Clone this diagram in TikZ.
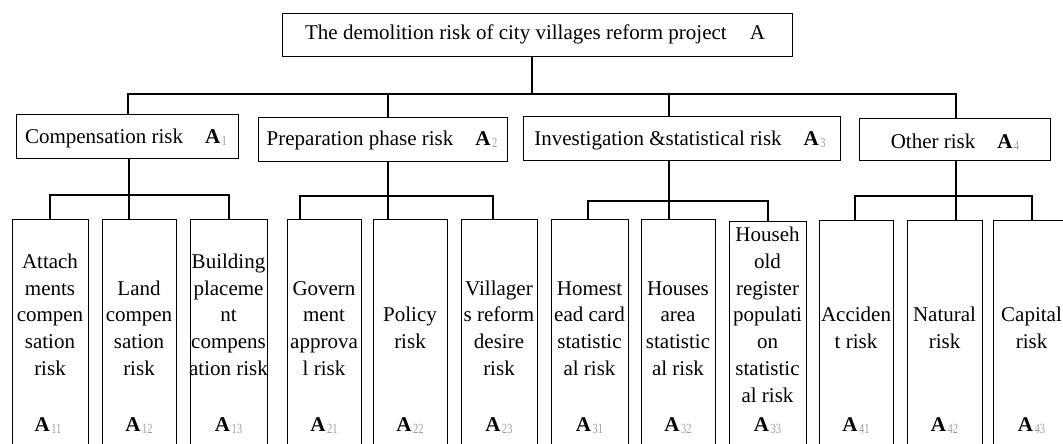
\documentclass[tikz,border=0pt]{standalone}
\usepackage{fontspec}
\setmainfont{Liberation Serif}
\usepackage{graphicx}
\definecolor{subgray}{gray}{0.62}
\newcommand{\Asub}[1]{\textbf{A}\kern1.5pt\raisebox{-2pt}{\scalebox{0.75}[1]{\color{subgray}\fontsize{14}{14}\selectfont #1}}}
\begin{document}
\begin{tikzpicture}[x=1pt,y=-1pt,line width=1.1pt,
  box/.style={draw,inner sep=0pt,anchor=north west},
  hbox/.style={box,minimum height=44pt},
  leaf/.style={box,minimum height=250pt},
  txt/.style={inner sep=0pt,anchor=base,font=\fontsize{21}{26.7}\selectfont},
  ltxt/.style={inner sep=0pt,anchor=north,align=center,font=\fontsize{21}{26.7}\selectfont},
  lab/.style={inner sep=0pt,anchor=base,font=\fontsize{21}{26.7}\selectfont}]
\clip (0,0) rectangle (1063,444);
\useasboundingbox (0,0) rectangle (1063,444);
% top box
\node[box,minimum width=510pt,minimum height=43pt] (top) at (282,13) {};
\node[txt] (ttop) at (535,40) {The demolition risk of city villages reform project\hspace{23pt}A};
% level 2
\node[hbox,minimum width=222pt] (a1) at (16,114) {};
\node[hbox,minimum width=249pt] (a2) at (258,117) {};
\node[hbox,minimum width=317pt] (a3) at (523,116) {};
\node[box,minimum width=191pt,minimum height=42pt] (a4) at (859,118) {};
\node[txt] (ta1) at (126,143) {Compensation risk\hspace{22pt}\Asub{1}};
\node[txt] (ta2) at (382,145) {Preparation phase risk\hspace{22pt}\Asub{2}};
\node[txt] (ta3) at (680,145) {Investigation \&statistical risk\hspace{22pt}\Asub{3}};
\node[txt] (ta4) at (955,148) {Other risk\hspace{22pt}\Asub{4}};
% level 3 boxes
\node[leaf,minimum width=76pt] (b1) at (12,219) {};
\node[leaf,minimum width=74pt] (b2) at (102,219) {};
\node[leaf,minimum width=77pt] (b3) at (190,219) {};
\node[leaf,minimum width=74pt] (b4) at (287,219) {};
\node[leaf,minimum width=74pt] (b5) at (373,219) {};
\node[leaf,minimum width=76pt] (b6) at (461,219) {};
\node[leaf,minimum width=77pt] (b7) at (551,219) {};
\node[leaf,minimum width=74pt] (b8) at (641,219) {};
\node[leaf,minimum width=77pt] (b9) at (729,221) {};
\node[leaf,minimum width=74pt] (b10) at (819,220) {};
\node[leaf,minimum width=75pt] (b11) at (907,220) {};
\node[leaf,minimum width=77pt] (b12) at (993,220) {};
% level 3 texts
\node[ltxt] (tb1) at (50,249.3) {\strut Attach\\ments\\compen\\sation\\risk};
\node[ltxt] (tb2) at (139,276.0) {\strut Land\\compen\\sation\\risk};
\node[ltxt] (tb3) at (228.5,249.3) {\strut Building\\placeme\\nt\\compens\\ation risk};
\node[ltxt] (tb4) at (324,276.0) {\strut Govern\\ment\\approva\\l risk};
\node[ltxt] (tb5) at (410,302.7) {\strut Policy\\risk};
\node[ltxt] (tb6) at (499,276.0) {\strut Villager\\s reform\\desire\\risk};
\node[ltxt] (tb7) at (589.5,276.0) {\strut Homest\\ead card\\statistic\\al risk};
\node[ltxt] (tb8) at (678,276.0) {\strut Houses\\area\\statistic\\al risk};
\node[ltxt] (tb9) at (767.5,222.6) {\strut Househ\\old\\register\\populati\\on\\statistic\\al risk};
\node[ltxt] (tb10) at (856,302.7) {\strut Acciden\\t risk};
\node[ltxt] (tb11) at (944.5,302.7) {\strut Natural\\risk};
\node[ltxt] (tb12) at (1031.5,302.7) {\strut Capital\\risk};
% labels
\node[lab] (l1) at (48,431) {\Asub{11}};
\node[lab] (l2) at (139,431) {\Asub{12}};
\node[lab] (l3) at (228.5,431) {\Asub{13}};
\node[lab] (l4) at (324,431) {\Asub{21}};
\node[lab] (l5) at (410,431) {\Asub{22}};
\node[lab] (l6) at (499,431) {\Asub{23}};
\node[lab] (l7) at (589.5,431) {\Asub{31}};
\node[lab] (l8) at (678,431) {\Asub{32}};
\node[lab] (l9) at (767.5,431) {\Asub{33}};
\node[lab] (l10) at (856,431) {\Asub{41}};
\node[lab] (l11) at (944.5,431) {\Asub{42}};
\node[lab] (l12) at (1031.5,431) {\Asub{43}};
% level 1 -> 2 connectors
\coordinate (j0) at (532,94);
\coordinate (j1) at (128,94);
\coordinate (j2) at (388,94);
\coordinate (j3) at (669,94);
\coordinate (j4) at (956,94);
\draw (j0 |- top.south) -- (j0);
\draw (j1 |- a1.north) -- (j1) -- (j4) -- (j4 |- a4.north);
\draw (j2) -- (j2 |- a2.north);
\draw (j3) -- (j3 |- a3.north);
% level 2 -> 3 connectors
\coordinate (k1) at (129,195);
\coordinate (g1l) at (50,195);
\coordinate (g1r) at (229,195);
\draw (k1 |- a1.south) -- (k1 |- b2.north);
\draw (g1l |- b1.north) -- (g1l) -- (g1r) -- (g1r |- b3.north);
\coordinate (k2) at (388,196);
\coordinate (g2l) at (300,196);
\coordinate (g2r) at (493,196);
\draw (k2 |- a2.south) -- (k2 |- b5.north);
\draw (g2l |- b4.north) -- (g2l) -- (g2r) -- (g2r |- b6.north);
\coordinate (k3) at (669,201);
\coordinate (g3l) at (588,201);
\coordinate (g3r) at (768,201);
\draw (k3 |- a3.south) -- (k3 |- b8.north);
\draw (g3l |- b7.north) -- (g3l) -- (g3r) -- (g3r |- b9.north);
\coordinate (k4) at (956,196);
\coordinate (g4l) at (855,196);
\coordinate (g4r) at (1032,196);
\draw (k4 |- a4.south) -- (k4 |- b11.north);
\draw (g4l |- b10.north) -- (g4l) -- (g4r) -- (g4r |- b12.north);
\end{tikzpicture}
\end{document}
